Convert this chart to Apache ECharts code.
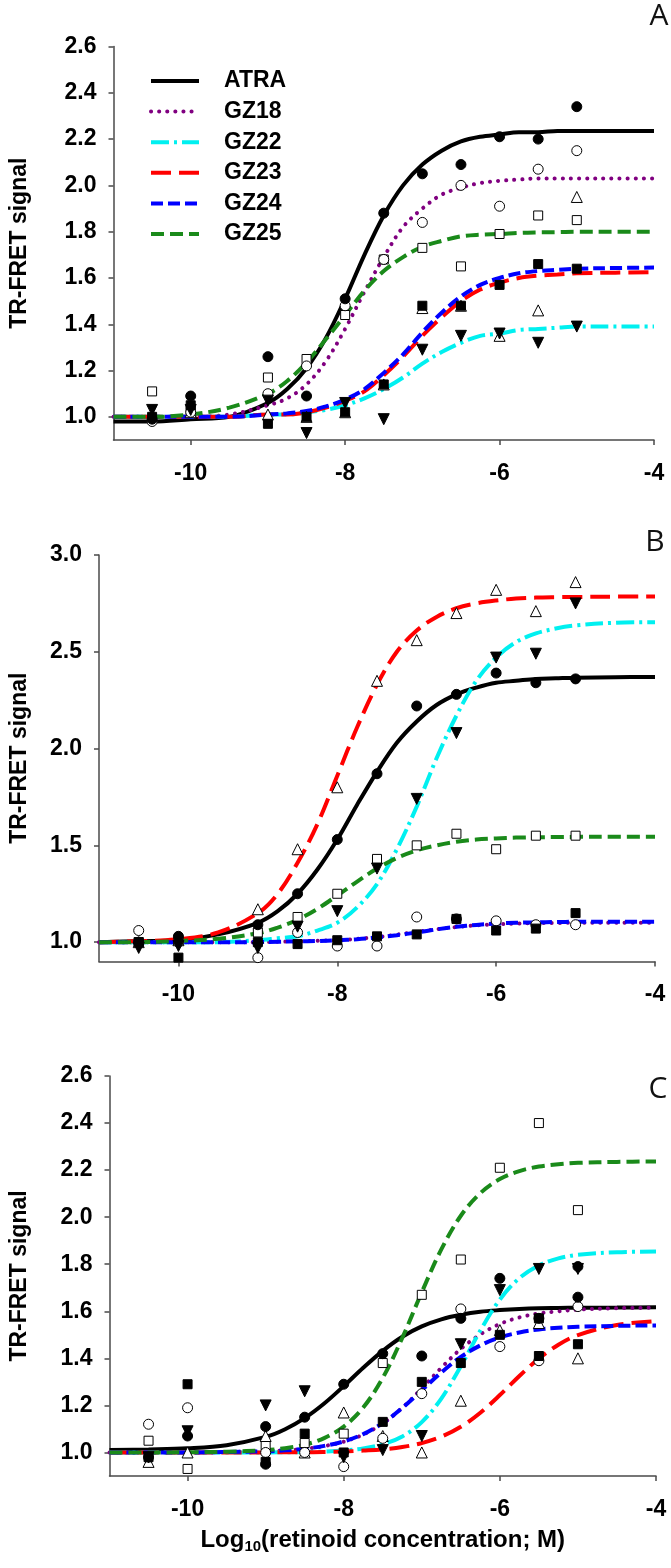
<!DOCTYPE html>
<html><head><meta charset="utf-8">
<script src="https://cdn.jsdelivr.net/npm/echarts@6/dist/echarts.min.js"></script>
<style>html,body{margin:0;padding:0;background:#fff}#c{width:671px;height:1568px}</style>
</head><body><div id="c"></div>
<script>
// ---------- data ----------
const names = ['ATRA','GZ18','GZ22','GZ23','GZ24','GZ25'];
const panelLetters = ['A','B','C'];
const xTicks = [-10,-8,-6,-4];
const yTicksA = [1.0,1.2,1.4,1.6,1.8,2.0,2.2,2.4,2.6];
const yTicksB = [1.0,1.5,2.0,2.5,3.0];
const yTicksC = [1.0,1.2,1.4,1.6,1.8,2.0,2.2,2.4,2.6];

// fitted curves
const fitX = [-11,-10.5,-10,-9.5,-9,-8.75,-8.5,-8.25,-8,-7.75,-7.5,-7.25,-7,-6.75,-6.5,-6.25,-6,-5.75,-5.5,-5.25,-5,-4.5,-4];

const fitA_ATRA = [0.98,0.98,0.99,1.00,1.06,1.12,1.21,1.34,1.51,1.70,1.87,2.00,2.09,2.15,2.19,2.21,2.22,2.23,2.23,2.235,2.235,2.235,2.235];
const fitA_GZ18 = [1.00,1.00,1.00,1.01,1.05,1.08,1.14,1.24,1.38,1.54,1.69,1.82,1.90,1.96,1.99,2.01,2.02,2.025,2.03,2.03,2.03,2.03,2.03];
const fitA_GZ22 = [1.00,1.00,1.00,1.00,1.01,1.01,1.02,1.03,1.05,1.08,1.12,1.17,1.23,1.28,1.32,1.35,1.36,1.375,1.38,1.385,1.39,1.39,1.39];
const fitA_GZ23 = [1.00,1.00,1.00,1.00,1.01,1.01,1.02,1.04,1.07,1.11,1.18,1.26,1.35,1.43,1.50,1.55,1.58,1.60,1.61,1.615,1.62,1.623,1.625];
const fitA_GZ24 = [1.00,1.00,1.00,1.00,1.01,1.015,1.025,1.045,1.075,1.12,1.19,1.27,1.365,1.45,1.52,1.57,1.60,1.62,1.63,1.635,1.64,1.643,1.645];
const fitA_GZ25 = [1.00,1.00,1.01,1.04,1.10,1.155,1.235,1.335,1.44,1.545,1.63,1.69,1.735,1.76,1.78,1.787,1.79,1.795,1.797,1.798,1.80,1.80,1.80];

const fitB_ATRA = [1.00,1.005,1.01,1.04,1.10,1.16,1.25,1.375,1.53,1.71,1.88,2.03,2.14,2.225,2.28,2.315,2.34,2.35,2.36,2.363,2.366,2.369,2.37];
const fitB_GZ18 = [1.00,1.00,1.00,1.00,1.00,1.002,1.004,1.007,1.01,1.017,1.026,1.039,1.053,1.067,1.078,1.087,1.092,1.096,1.098,1.099,1.10,1.10,1.10];
const fitB_GZ22 = [1.00,1.00,1.00,1.00,1.01,1.02,1.03,1.06,1.10,1.18,1.30,1.48,1.70,1.95,2.17,2.35,2.47,2.55,2.595,2.62,2.636,2.65,2.653];
const fitB_GZ23 = [1.00,1.005,1.015,1.05,1.15,1.25,1.41,1.61,1.86,2.11,2.33,2.50,2.61,2.68,2.725,2.75,2.765,2.775,2.78,2.782,2.783,2.785,2.785];
const fitB_GZ24 = [1.00,1.00,1.00,1.00,1.00,1.002,1.004,1.006,1.01,1.015,1.024,1.036,1.05,1.066,1.079,1.089,1.096,1.10,1.102,1.104,1.105,1.105,1.105];
const fitB_GZ25 = [1.00,1.00,1.006,1.017,1.046,1.075,1.116,1.172,1.241,1.313,1.38,1.435,1.474,1.50,1.519,1.53,1.536,1.54,1.542,1.543,1.544,1.545,1.545];

const fitC_ATRA = [1.01,1.013,1.018,1.031,1.066,1.099,1.146,1.208,1.282,1.36,1.432,1.492,1.536,1.566,1.585,1.598,1.605,1.61,1.613,1.614,1.615,1.616,1.617];
const fitC_GZ18 = [1.00,1.00,1.00,1.002,1.005,1.009,1.015,1.027,1.046,1.076,1.123,1.19,1.272,1.36,1.44,1.502,1.546,1.574,1.591,1.60,1.607,1.613,1.615];
const fitC_GZ22 = [1.00,1.00,1.00,1.00,1.00,1.001,1.002,1.004,1.0085,1.017,1.035,1.068,1.129,1.229,1.366,1.518,1.65,1.741,1.795,1.825,1.84,1.851,1.854];
const fitC_GZ23 = [1.00,1.00,1.00,1.00,1.00,1.001,1.001,1.002,1.004,1.008,1.013,1.023,1.04,1.067,1.109,1.169,1.244,1.325,1.399,1.458,1.499,1.542,1.558];
const fitC_GZ24 = [1.00,1.00,1.00,1.002,1.005,1.009,1.016,1.028,1.047,1.078,1.125,1.189,1.264,1.34,1.406,1.455,1.489,1.51,1.523,1.53,1.534,1.538,1.54];
const fitC_GZ25 = [1.00,1.00,1.001,1.003,1.01,1.018,1.033,1.061,1.11,1.191,1.317,1.487,1.681,1.863,2.006,2.102,2.162,2.196,2.215,2.225,2.231,2.235,2.237];

// measured points (log10 concentration)
const concX = [-10.5,-10,-9,-8.5,-8,-7.5,-7,-6.5,-6,-5.5,-5];

const ptsA_ATRA = [0.99,1.09,1.26,1.09,1.51,1.88,2.05,2.09,2.21,2.20,2.34];
const ptsA_GZ18 = [0.98,1.02,1.10,1.22,1.48,1.68,1.84,2.00,1.91,2.07,2.15];
const ptsA_GZ22 = [1.03,1.03,1.07,0.93,1.06,0.99,1.29,1.35,1.36,1.32,1.39];
const ptsA_GZ23 = [1.00,1.02,1.01,1.00,1.02,1.14,1.47,1.48,1.35,1.46,1.95];
const ptsA_GZ24 = [1.00,1.05,0.97,1.00,1.02,1.14,1.48,1.48,1.57,1.66,1.64];
const ptsA_GZ25 = [1.11,1.03,1.17,1.25,1.44,1.68,1.73,1.65,1.79,1.87,1.85];

const ptsB_ATRA = [1.00,1.03,1.09,1.25,1.53,1.87,2.22,2.28,2.39,2.34,2.36];
const ptsB_GZ18 = [1.06,1.00,0.92,1.05,0.98,0.98,1.13,1.12,1.11,1.09,1.09];
const ptsB_GZ22 = [0.97,0.98,0.97,1.08,1.16,1.38,1.74,2.08,2.47,2.49,2.75];
const ptsB_GZ23 = [1.00,1.01,1.17,1.48,1.80,2.35,2.56,2.70,2.82,2.71,2.86];
const ptsB_GZ24 = [1.00,0.92,1.00,0.99,1.01,1.03,1.04,1.12,1.06,1.07,1.15];
const ptsB_GZ25 = [1.00,1.01,1.05,1.13,1.25,1.43,1.50,1.56,1.48,1.55,1.55];

const ptsC_ATRA = [0.98,1.07,1.11,1.15,1.29,1.42,1.41,1.57,1.74,1.57,1.66];
const ptsC_GZ18 = [1.12,1.19,1.00,1.00,0.94,1.06,1.25,1.61,1.45,1.39,1.62];
const ptsC_GZ22 = [0.98,1.09,1.20,1.26,0.98,1.01,1.07,1.46,1.69,1.78,1.78];
const ptsC_GZ23 = [0.96,1.00,1.07,1.00,1.17,1.07,1.00,1.22,1.52,1.55,1.40];
const ptsC_GZ24 = [0.98,1.29,0.96,1.08,1.00,1.13,1.30,1.38,1.50,1.41,1.46];
const ptsC_GZ25 = [1.05,0.93,1.03,1.04,1.08,1.38,1.67,1.82,2.21,2.40,2.03];
// additional replicate points visible in panel C
const extraC_ATRA = [[-9,0.95],[-5,1.79]];
const extraC_GZ24 = [[-5.5,1.57]];

// ---------- styling ----------
const FONT = '"Liberation Sans", Arial, sans-serif';
const AXC = '#4a4a4a';
const colors = {ATRA:'#000000',GZ18:'#800080',GZ22:'#00F0F0',GZ23:'#FF0000',GZ24:'#0000FF',GZ25:'#1A8A1A'};
const dashes = {ATRA:'solid',GZ18:[0.1,8],GZ22:[18,5,3,5],GZ23:[20,8],GZ24:[12,5],GZ25:[13,6]};
const caps = {ATRA:'butt',GZ18:'round',GZ22:'butt',GZ23:'butt',GZ24:'butt',GZ25:'butt'};
const marks = {
  ATRA:{symbol:'circle',size:10,fill:'#000',rot:0},
  GZ18:{symbol:'circle',size:10,fill:'#fff',rot:0},
  GZ22:{symbol:'triangle',size:11,fill:'#000',rot:180},
  GZ23:{symbol:'triangle',size:11,fill:'#fff',rot:0},
  GZ24:{symbol:'rect',size:9,fill:'#000',rot:0},
  GZ25:{symbol:'rect',size:9,fill:'#fff',rot:0}
};

const panels = [
  {fits:[fitA_ATRA,fitA_GZ18,fitA_GZ22,fitA_GZ23,fitA_GZ24,fitA_GZ25], pts:[ptsA_ATRA,ptsA_GZ18,ptsA_GZ22,ptsA_GZ23,ptsA_GZ24,ptsA_GZ25], extra:{}},
  {fits:[fitB_ATRA,fitB_GZ18,fitB_GZ22,fitB_GZ23,fitB_GZ24,fitB_GZ25], pts:[ptsB_ATRA,ptsB_GZ18,ptsB_GZ22,ptsB_GZ23,ptsB_GZ24,ptsB_GZ25], extra:{}},
  {fits:[fitC_ATRA,fitC_GZ18,fitC_GZ22,fitC_GZ23,fitC_GZ24,fitC_GZ25], pts:[ptsC_ATRA,ptsC_GZ18,ptsC_GZ22,ptsC_GZ23,ptsC_GZ24,ptsC_GZ25], extra:{ATRA:extraC_ATRA,GZ24:extraC_GZ24}}
];

const grids = [
  {left:107, top:46.5, width:547, height:393.5},
  {left:92.5, top:555, width:562.5, height:406.5},
  {left:103, top:1076, width:553, height:400}
];
const yRanges = [[0.9,2.6,yTicksA],[0.9,3.0,yTicksB],[0.9,2.6,yTicksC]];
const nameGaps = [82.5, 68, 78.5];

const pair = (xs, ys) => xs.map((x,i)=>[x, ys[i]]);

const series = [];
panels.forEach((p, gi) => {
  names.forEach((n, k) => {
    series.push({
      name:n, type:'line', xAxisIndex:gi, yAxisIndex:gi, data:pair(fitX, p.fits[k]),
      smooth:0.35, symbol:'none', showSymbol:false, z:2, animation:false,
      lineStyle:{color:colors[n], width:4, type:dashes[n], cap:caps[n]},
      itemStyle:{color:colors[n]}
    });
  });
  // points: open markers first, filled on top
  ['GZ25','GZ23','GZ18','GZ24','GZ22','ATRA'].forEach(n => {
    const k = names.indexOf(n);
    const m = marks[n];
    let d = pair(concX, p.pts[k]);
    if (p.extra[n]) d = d.concat(p.extra[n]);
    series.push({
      name:n+' data', type:'scatter', xAxisIndex:gi, yAxisIndex:gi, data:d,
      symbol:m.symbol, symbolSize:m.size, symbolRotate:m.rot, z:3, animation:false,
      itemStyle:{color:m.fill, borderColor:'#000', borderWidth:1, opacity:1}
    });
  });
});

const xAxes = grids.map((g, gi) => {
  const ax = {
    type:'value', gridIndex:gi, min:-11, max:-4,
    axisLine:{show:true, onZero:false, lineStyle:{color:AXC, width:1.5}},
    axisTick:{show:true, length:5, customValues:xTicks, lineStyle:{color:AXC, width:1.5}},
    axisLabel:{customValues:xTicks, margin:22, fontSize:23, fontWeight:'bold', fontFamily:FONT, color:'#000',
      formatter:v=>String(v)},
    splitLine:{show:false}
  };
  if (gi === 2) {
    ax.name = 'Log{sub|10}(retinoid concentration; M)';
    ax.nameLocation = 'middle';
    ax.nameGap = 50;
    ax.nameTextStyle = {fontSize:24, fontWeight:'bold', fontFamily:FONT, color:'#000', lineHeight:28,
      rich:{sub:{fontSize:15, fontWeight:'bold', fontFamily:FONT, color:'#000', lineHeight:12, verticalAlign:'bottom'}}};
  }
  return ax;
});

const yAxes = grids.map((g, gi) => ({
  type:'value', gridIndex:gi, min:yRanges[gi][0], max:yRanges[gi][1],
  name:'TR-FRET signal', nameLocation:'middle', nameGap:nameGaps[gi],
  nameTextStyle:{fontSize:23, fontWeight:'bold', fontFamily:FONT, color:'#000'},
  axisLine:{show:true, onZero:false, lineStyle:{color:AXC, width:1.5}},
  axisTick:{show:true, length:5, customValues:yRanges[gi][2], lineStyle:{color:AXC, width:1.5}},
  axisLabel:{customValues:yRanges[gi][2], margin:17, fontSize:23, fontWeight:'bold', fontFamily:FONT, color:'#000',
    formatter:v=>Number(v).toFixed(1)},
  splitLine:{show:false}
}));

const letterPos = [[659,16],[655,542],[658,1089]];

const option = {
  animation:false,
  backgroundColor:'#fff',
  grid:grids,
  xAxis:xAxes,
  yAxis:yAxes,
  legend:{
    data:names, orient:'vertical', left:149, top:69, itemWidth:48, itemHeight:14, itemGap:6.6,
    selectedMode:false, padding:0,
    lineStyle:{width:4},
    itemStyle:{color:'rgba(0,0,0,0)', borderWidth:0, opacity:0},
    textStyle:{fontSize:23, fontWeight:'bold', fontFamily:FONT, color:'#000', lineHeight:24, padding:[0,0,0,20]}
  },
  graphic: panelLetters.map((t, i) => ({
    type:'text', x:letterPos[i][0], y:letterPos[i][1], z:10,
    style:{text:t, font:'30px "Open Sans", "Liberation Sans", sans-serif', fill:'#111', align:'center', verticalAlign:'middle'}
  })),
  series:series
};

const chart = echarts.init(document.getElementById('c'), null, {renderer:'canvas'});
chart.setOption(option);
</script>
</body></html>
